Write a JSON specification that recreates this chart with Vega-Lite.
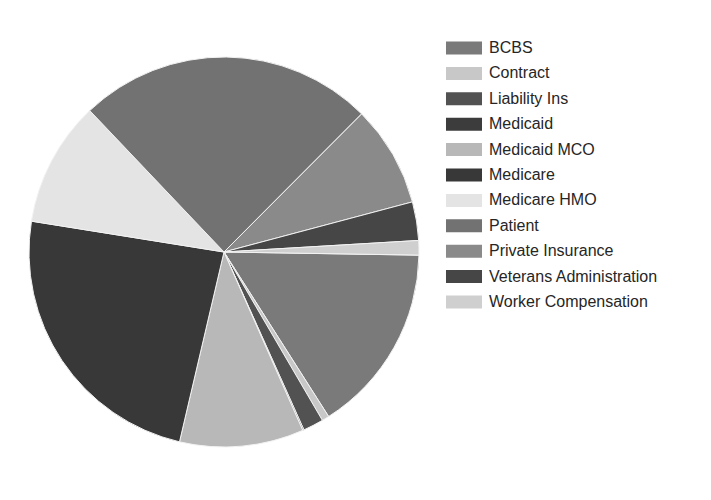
{
  "$schema": "https://vega.github.io/schema/vega-lite/v6.json",
  "width": 448,
  "height": 504,
  "padding": 0,
  "autosize": {"type": "pad"},
  "background": "white",
  "config": {"view": {"stroke": null}},
  "data": {
    "values": [
      {"payer": "BCBS", "share": 15.75},
      {"payer": "Contract", "share": 0.6},
      {"payer": "Liability Ins", "share": 1.7},
      {"payer": "Medicaid", "share": 0.1},
      {"payer": "Medicaid MCO", "share": 10.3},
      {"payer": "Medicare", "share": 23.9},
      {"payer": "Medicare HMO", "share": 10.4},
      {"payer": "Patient", "share": 24.6},
      {"payer": "Private Insurance", "share": 8.4},
      {"payer": "Veterans Administration", "share": 3.2},
      {"payer": "Worker Compensation", "share": 1.2}
    ]
  },
  "mark": {"type": "arc", "outerRadius": 195, "stroke": "#f2f2f2", "strokeWidth": 1},
  "encoding": {
    "theta": {
      "field": "share",
      "type": "quantitative",
      "stack": true,
      "scale": {"range": [1.587, 7.870]}
    },
    "color": {
      "field": "payer",
      "type": "nominal",
      "scale": {
        "domain": ["BCBS", "Contract", "Liability Ins", "Medicaid", "Medicaid MCO", "Medicare", "Medicare HMO", "Patient", "Private Insurance", "Veterans Administration", "Worker Compensation"],
        "range": ["#7a7a7a", "#c8c8c8", "#525252", "#3c3c3c", "#b8b8b8", "#383838", "#e4e4e4", "#727272", "#8a8a8a", "#464646", "#cfcfcf"]
      },
      "legend": {
        "title": null,
        "orient": "none",
        "legendX": 456,
        "legendY": 40,
        "symbolType": "M-2.77,-1H2.77V1H-2.77Z",
        "symbolSize": 169,
        "symbolStrokeWidth": 0,
        "symbolOpacity": 1,
        "labelOffset": 17,
        "labelFont": "Liberation Sans",
        "labelFontSize": 16,
        "labelColor": "#262626",
        "labelLimit": 300,
        "rowPadding": 9.4
      }
    },
    "order": {"field": "payer", "sort": "ascending"}
  }
}
